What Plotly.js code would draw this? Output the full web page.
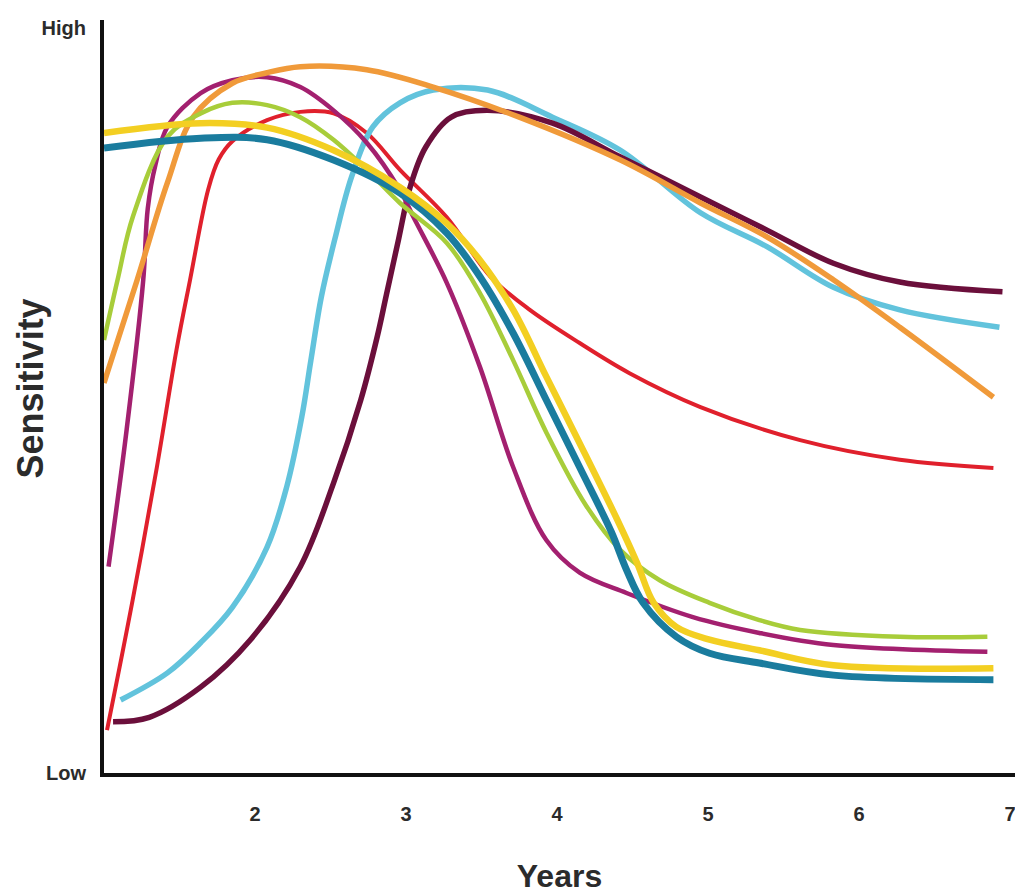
<!DOCTYPE html>
<html>
<head>
<meta charset="utf-8">
<script src="https://cdn.plot.ly/plotly-3.0.1.min.js"></script>
<style>
  html, body { margin: 0; padding: 0; background: #ffffff; }
  #chart { width: 1015px; height: 896px; }
</style>
</head>
<body>
<div id="chart"></div>
<script>
// ---- Data (y: 0 = Low, 100 = High) ----
const xTickVals = [2, 3, 4, 5, 6, 7];
const yTickVals = [0, 99];
const yTickText = ["Low", "High"];
const xTitle = "Years";
const yTitle = "Sensitivity";

const tealX = [1.00, 1.64, 2.08, 2.52, 2.96, 3.27, 3.49, 3.71, 3.93, 4.15, 4.36, 4.46, 4.57, 4.79, 5.01, 5.34, 5.83, 6.89];
const tealY = [83.0, 84.3, 84.1, 81.4, 77.0, 71.7, 65.9, 58.4, 49.5, 40.6, 32.0, 27.0, 22.6, 18.1, 15.9, 14.6, 13.0, 12.4];

const yellowX = [1.00, 1.64, 2.08, 2.52, 2.96, 3.27, 3.49, 3.71, 3.93, 4.15, 4.40, 4.53, 4.64, 4.79, 5.01, 5.34, 5.83, 6.89];
const yellowY = [85.0, 86.3, 85.7, 82.7, 77.8, 73.0, 68.1, 61.5, 52.6, 43.8, 33.6, 27.9, 22.6, 19.4, 17.7, 16.3, 14.3, 13.9];

const greenX = [1.00, 1.09, 1.19, 1.42, 1.64, 1.85, 2.08, 2.30, 2.52, 2.74, 2.96, 3.27, 3.49, 3.71, 3.93, 4.19, 4.42, 4.68, 5.01, 5.34, 5.61, 6.27, 6.85];
const greenY = [57.5, 65.5, 73.8, 84.5, 87.6, 89.0, 88.7, 87.1, 84.1, 80.1, 75.7, 70.4, 63.7, 54.8, 45.2, 35.6, 29.6, 25.6, 22.6, 20.3, 19.0, 18.1, 18.1];

const magentaX = [1.03, 1.15, 1.26, 1.29, 1.34, 1.42, 1.64, 1.85, 2.08, 2.30, 2.52, 2.74, 2.96, 3.05, 3.27, 3.49, 3.71, 3.93, 4.15, 4.46, 4.90, 5.34, 5.83, 6.85];
const magentaY = [27.4, 45.6, 65.5, 75.0, 80.7, 85.8, 90.3, 92.0, 92.4, 91.1, 88.0, 83.7, 77.4, 73.8, 65.1, 53.9, 40.6, 30.9, 26.6, 23.9, 20.7, 18.6, 17.0, 16.1];

const orangeX = [1.00, 1.22, 1.42, 1.59, 1.85, 2.08, 2.30, 2.74, 3.18, 3.75, 4.42, 4.95, 5.39, 5.83, 6.27, 6.89];
const orangeY = [51.8, 65.5, 78.4, 87.1, 91.6, 93.0, 93.8, 93.4, 91.1, 87.1, 81.4, 75.7, 71.2, 65.5, 59.2, 49.9];

const redX = [1.02, 1.19, 1.35, 1.48, 1.57, 1.69, 1.76, 1.85, 2.08, 2.30, 2.52, 2.74, 2.96, 3.27, 3.56, 3.82, 4.15, 4.48, 4.95, 5.61, 6.27, 6.89];
const redY = [5.7, 23.0, 40.6, 56.2, 65.5, 77.5, 81.5, 83.9, 86.7, 87.8, 87.6, 85.0, 80.1, 73.8, 65.9, 61.5, 57.1, 53.1, 48.6, 44.2, 41.6, 40.5];

const lightBlueX = [1.11, 1.42, 1.64, 1.85, 2.08, 2.21, 2.31, 2.37, 2.44, 2.53, 2.64, 2.78, 2.96, 3.18, 3.54, 3.97, 4.42, 4.95, 5.39, 5.83, 6.27, 6.93];
const lightBlueY = [9.7, 13.3, 17.3, 22.0, 30.0, 38.0, 47.3, 54.8, 63.3, 71.0, 79.2, 85.8, 89.0, 90.7, 90.7, 87.1, 82.7, 74.4, 69.9, 64.5, 61.5, 59.2];

const maroonX = [1.06, 1.30, 1.64, 1.97, 2.30, 2.52, 2.70, 2.81, 2.87, 2.95, 3.03, 3.13, 3.30, 3.54, 3.97, 4.42, 4.95, 5.39, 5.83, 6.27, 6.95];
const maroonY = [6.8, 7.4, 11.4, 17.7, 27.4, 38.5, 49.5, 58.0, 63.5, 70.8, 78.0, 83.1, 87.1, 88.0, 86.3, 81.8, 76.5, 72.1, 67.7, 65.2, 63.9];

// ---- Traces (bottom to top) ----
function curve(x, y, color, width) {
  return {
    x: x, y: y, type: "scatter", mode: "lines",
    line: { color: color, width: width, shape: "spline", smoothing: 1 },
    hoverinfo: "skip", showlegend: false
  };
}

const traces = [
  curve(redX, redY, "#e0202c", 4),
  curve(lightBlueX, lightBlueY, "#62c3dc", 5.5),
  curve(maroonX, maroonY, "#6b0f3b", 5.5),
  curve(magentaX, magentaY, "#a3206f", 4.5),
  curve(orangeX, orangeY, "#f09a3a", 5.5),
  curve(greenX, greenY, "#a8cd3a", 4.5),
  curve(tealX, tealY, "#1a7c9e", 7),
  curve(yellowX, yellowY, "#f3cf22", 6.5)
];

const fontFamily = "'Liberation Sans', Arial, sans-serif";

const layout = {
  width: 1015,
  height: 896,
  margin: { l: 104, r: 0, t: 20, b: 123, pad: 0 },
  paper_bgcolor: "#ffffff",
  plot_bgcolor: "#ffffff",
  showlegend: false,
  xaxis: {
    range: [1, 7.033],
    tickvals: xTickVals,
    ticks: "outside",
    ticklen: 20,
    tickcolor: "rgba(0,0,0,0)",
    ticklabeloverflow: "allow",
    showline: true,
    linecolor: "#111111",
    linewidth: 4,
    showgrid: false,
    zeroline: false,
    tickfont: { family: fontFamily, size: 20, color: "#2b2b2b", weight: "bold" },
    title: {
      text: "<b>" + xTitle + "</b>",
      font: { family: fontFamily, size: 32, color: "#2b2b2b" },
      standoff: 42
    }
  },
  yaxis: {
    range: [0, 100],
    tickvals: yTickVals,
    ticktext: yTickText,
    ticks: "outside",
    ticklen: 10,
    tickcolor: "rgba(0,0,0,0)",
    showline: true,
    linecolor: "#111111",
    linewidth: 4,
    showgrid: false,
    zeroline: false,
    tickfont: { family: fontFamily, size: 20, color: "#2b2b2b", weight: "bold" },
    title: { text: "" }
  },
  annotations: [{
    text: "<b>" + yTitle + "</b>",
    xref: "paper", yref: "paper",
    x: -0.081, y: 0.511,
    xanchor: "center", yanchor: "middle",
    textangle: -90,
    showarrow: false,
    font: { family: fontFamily, size: 36, color: "#2b2b2b" }
  }]
};

Plotly.newPlot("chart", traces, layout, { displayModeBar: false, staticPlot: true });
</script>
</body>
</html>
